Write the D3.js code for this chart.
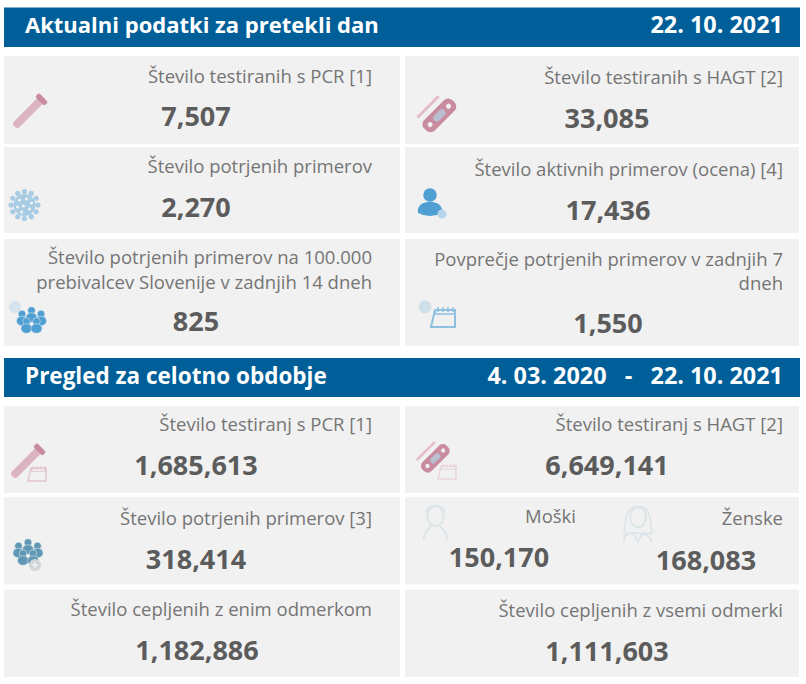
<!DOCTYPE html>
<html>
<head>
<meta charset="utf-8">
<script src="https://cdn.jsdelivr.net/npm/d3@7"></script>
<style>
  html, body { margin: 0; padding: 0; background: #fff; }
  svg { display: block; }
  text { font-family: "Open Sans", sans-serif; white-space: pre; }
</style>
</head>
<body>
<div id="chart"></div>
<script>
// data
const headerTitles = ["Aktualni podatki za pretekli dan", "Pregled za celotno obdobje"];
const headerDates = ["22. 10. 2021", "4. 03. 2020   -   22. 10. 2021"];
const cardLabels = [
  ["Število testiranih s PCR [1]"],
  ["Število testiranih s HAGT [2]"],
  ["Število potrjenih primerov"],
  ["Število aktivnih primerov (ocena) [4]"],
  ["Število potrjenih primerov na 100.000", "prebivalcev Slovenije v zadnjih 14 dneh"],
  ["Povprečje potrjenih primerov v zadnjih 7", "dneh"],
  ["Število testiranj s PCR [1]"],
  ["Število testiranj s HAGT [2]"],
  ["Število potrjenih primerov [3]"],
  ["Moški"],
  ["Število cepljenih z enim odmerkom"],
  ["Število cepljenih z vsemi odmerki"]
];
const cardValues = [7507, 33085, 2270, 17436, 825, 1550, 1685613, 6649141, 318414, 150170, 1182886, 1111603];
const extraLabel = "Ženske";
const extraValue = 168083;

// layout
const width = 806, height = 684;
const headerBoxes = [{y: 7.5, h: 39.5}, {y: 358, h: 39}];
const rowBoxes = [
  {y: 56, h: 88}, {y: 147, h: 86}, {y: 239, h: 107},
  {y: 406, h: 87}, {y: 497, h: 87.5}, {y: 589.5, h: 87.5}
];
const columns = [{x: 4, w: 396, textEnd: 372}, {x: 405, w: 394, textEnd: 783}];
// label baseline(s) and value position for each card, same order as cardLabels
const cardText = [
  {ly: [82.5], vx: 196, vy: 126}, {ly: [84], vx: 607, vy: 128},
  {ly: [173], vx: 196, vy: 217}, {ly: [176], vx: 608, vy: 220},
  {ly: [263.5, 288.5], vx: 196, vy: 331}, {ly: [265.5, 289.5], vx: 608, vy: 333},
  {ly: [430.5], vx: 196, vy: 475}, {ly: [430.5], vx: 607, vy: 475},
  {ly: [525], vx: 196, vy: 569}, {ly: [523], vx: 499, vy: 567},
  {ly: [616], vx: 197, vy: 660}, {ly: [617], vx: 607, vy: 661}
];

const svg = d3.select("#chart").append("svg")
  .attr("width", width)
  .attr("height", height);

const defs = svg.append("defs");
defs.append("filter").attr("id", "soft")
  .append("feGaussianBlur").attr("stdDeviation", 0.5);

const blue = "#005f99", cardFill = "#f1f1f1", labelColor = "#757575", valueColor = "#5c5c5c";

// cards
cardLabels.forEach(function(lines, i) {
  let col = columns[i % 2];
  let row = rowBoxes[Math.floor(i / 2)];
  svg.append("rect")
    .attr("x", col.x).attr("y", row.y)
    .attr("width", col.w).attr("height", row.h)
    .attr("fill", cardFill);
});

// headers
const titleSizes = [22, 22.5];
headerBoxes.forEach(function(b, i) {
  svg.append("rect")
    .attr("x", 4).attr("y", b.y)
    .attr("width", 796).attr("height", b.h)
    .attr("fill", blue);
  svg.append("text")
    .attr("x", 25).attr("y", b.y + 25.5)
    .attr("fill", "#fff").attr("font-size", titleSizes[i]).attr("font-weight", 700)
    .text(headerTitles[i]);
  svg.append("text")
    .attr("x", 783).attr("y", b.y + 25.5)
    .attr("text-anchor", "end")
    .attr("fill", "#fff").attr("font-size", 23.4).attr("font-weight", 700)
    .text(headerDates[i]);
});

// labels and values
const fmt = d3.format(",");
function drawLabel(str, x, y) {
  svg.append("text")
    .attr("x", x).attr("y", y)
    .attr("text-anchor", "end")
    .attr("fill", labelColor).attr("font-size", 18.5)
    .text(str);
}
function drawValue(v, x, y) {
  svg.append("text")
    .attr("x", x).attr("y", y)
    .attr("text-anchor", "middle")
    .attr("fill", valueColor).attr("font-size", 27).attr("font-weight", 700)
    .text(fmt(v));
}
cardLabels.forEach(function(lines, i) {
  let pos = cardText[i];
  let end = i === 9 ? 576 : columns[i % 2].textEnd;
  lines.forEach(function(line, k) { drawLabel(line, end, pos.ly[k]); });
  drawValue(cardValues[i], pos.vx, pos.vy);
});
drawLabel(extraLabel, 783, 525);
drawValue(extraValue, 706, 570);

// icons
const pink = "#c98c9e", skyBlue = "#a8cce4", midBlue = "#4f9fd3", steel = "#5f97b5", pale = "#dde5e9";

function iconGroup(x, y, s) {
  return svg.append("g")
    .attr("transform", "translate(" + x + "," + y + ") scale(" + (s || 1) + ")")
    .attr("filter", "url(#soft)");
}
function tube(g) {
  let t = g.append("g").attr("transform", "rotate(45)");
  t.append("rect").attr("x", -4).attr("y", -19).attr("width", 8).attr("height", 38).attr("rx", 3.5).attr("fill", "#dcb4c0");
  t.append("rect").attr("x", -6.5).attr("y", -22).attr("width", 13).attr("height", 5.5).attr("rx", 2).attr("fill", pink);
}
function hagt(g) {
  let t = g.append("g").attr("transform", "rotate(-45)");
  t.append("rect").attr("x", -20).attr("y", -7).attr("width", 40).attr("height", 15).attr("rx", 6).attr("fill", pink);
  t.append("rect").attr("x", -7).attr("y", -3).attr("width", 14).attr("height", 7).attr("rx", 3).attr("fill", "#b9bfd0");
  t.append("circle").attr("cx", -13).attr("cy", 0.5).attr("r", 2.5).attr("fill", cardFill);
  t.append("circle").attr("cx", 13).attr("cy", 0.5).attr("r", 2.5).attr("fill", cardFill);
  t.append("rect").attr("x", -17).attr("y", -15).attr("width", 30).attr("height", 3).attr("fill", "#e3bcc7");
}
function calendar(g, color) {
  g.append("path")
    .attr("d", "M-8,-9H12V8H-12Z")
    .attr("fill", "none").attr("stroke", color).attr("stroke-width", 2);
  g.append("path")
    .attr("d", "M-8,-9H12V-5H-8ZM-5,-12V-7M0,-12V-7M5,-12V-7M10,-12V-7")
    .attr("fill", "none").attr("stroke", color).attr("stroke-width", 1.5);
}
function virus(g) {
  d3.range(12).forEach(function(i) {
    let a = i / 12 * 2 * Math.PI;
    g.append("circle").attr("cx", 13.5 * Math.cos(a)).attr("cy", 13.5 * Math.sin(a)).attr("r", 2.6).attr("fill", skyBlue);
  });
  g.append("circle").attr("r", 11).attr("fill", skyBlue);
  [[-5, -5], [2, -6], [7, -2], [-7, 2], [-1, 1], [5, 4], [-3, 7]].forEach(function(p) {
    g.append("circle").attr("cx", p[0]).attr("cy", p[1]).attr("r", 1.5).attr("fill", cardFill);
  });
}
function person(g, x, y, s, color) {
  g.append("circle").attr("cx", x).attr("cy", y - 6 * s).attr("r", 4.5 * s).attr("fill", color);
  g.append("path")
    .attr("d", "M" + (x - 8 * s) + "," + (y + 6 * s) +
      "C" + (x - 10 * s) + "," + (y - 4 * s) + " " + (x + 10 * s) + "," + (y - 4 * s) + " " + (x + 8 * s) + "," + (y + 6 * s) +
      "Q" + x + "," + (y + 10 * s) + " " + (x - 8 * s) + "," + (y + 6 * s) + "Z")
    .attr("fill", color);
}
function crowd(g, color) {
  [[0, -6], [-9.5, -2.5], [9.5, -2.5], [-5, 5], [5, 5]].forEach(function(p) {
    g.append("circle").attr("cx", p[0]).attr("cy", p[1] - 3.5).attr("r", 3.8)
      .attr("fill", color).attr("stroke", cardFill).attr("stroke-width", 0.5);
    g.append("ellipse").attr("cx", p[0]).attr("cy", p[1] + 3.5).attr("rx", 5.6).attr("ry", 4.8)
      .attr("fill", color).attr("stroke", cardFill).attr("stroke-width", 0.5);
  });
}
function outlinePerson(g, hair) {
  g.append("ellipse").attr("cx", 0).attr("cy", -6).attr("rx", 8).attr("ry", 10)
    .attr("fill", "none").attr("stroke", pale).attr("stroke-width", 2);
  if (hair) {
    g.append("path")
      .attr("d", "M-2,-16C-14,-16 -12,2 -14,9C-10,12 -6,11 -5,9M2,-16C14,-16 12,2 14,9C10,12 6,11 5,9M-14,19V14C-11,8 11,8 14,19M-4,11L0,19L4,11")
      .attr("fill", "none").attr("stroke", pale).attr("stroke-width", 1.8);
  } else {
    g.append("path")
      .attr("d", "M-9,-9C-9,-19 9,-19 9,-9M-12,18C-12,9 -6,8 -5,4M12,18C12,9 6,8 5,4")
      .attr("fill", "none").attr("stroke", pale).attr("stroke-width", 2);
  }
}

tube(iconGroup(28, 113));
hagt(iconGroup(439, 115));
virus(iconGroup(24.5, 205));
let activeIcon = iconGroup(430, 204);
person(activeIcon, 0, 0, 1.5, midBlue);
activeIcon.append("circle").attr("cx", 12).attr("cy", 10).attr("r", 4.5).attr("fill", "#b5d5ea");
let weekIcon = iconGroup(31.5, 320);
crowd(weekIcon, midBlue);
weekIcon.append("circle").attr("cx", -16.5).attr("cy", -13).attr("r", 6).attr("fill", "#d5e4ee");
let avgIcon = iconGroup(443, 319);
calendar(avgIcon, "#8ec0df");
avgIcon.append("circle").attr("cx", -18).attr("cy", -12).attr("r", 6.5).attr("fill", "#cfe0ea");
tube(iconGroup(26, 463));
calendar(iconGroup(37, 475, 0.75), "#e2c4cd");
hagt(iconGroup(435, 458, 0.85));
calendar(iconGroup(447, 473, 0.75), "#ead5da");
let allCases = iconGroup(28, 552);
crowd(allCases, steel);
allCases.append("circle").attr("cx", 7).attr("cy", 13).attr("r", 6).attr("fill", "#d2d6d8");
allCases.append("path").attr("d", "M4,13H10M7,10V16").attr("stroke", "#f1f1f1").attr("stroke-width", 1.5);
outlinePerson(iconGroup(435.5, 522), false);
outlinePerson(iconGroup(638, 523), true);
</script>
</body>
</html>
